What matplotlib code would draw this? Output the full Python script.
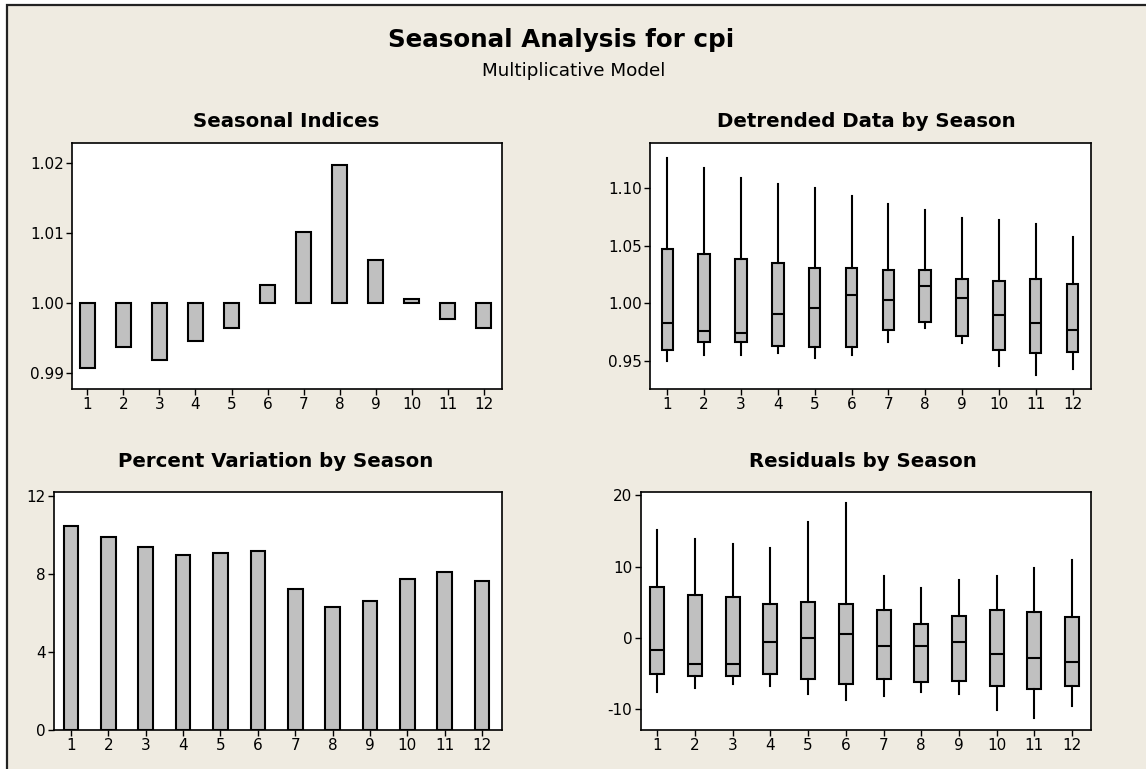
import numpy as np
import matplotlib.pyplot as plt
from matplotlib.patches import Rectangle

# seasons
seasons = np.arange(1, 13)
season_labels = [str(s) for s in seasons]

# seasonal indices
indices = [0.9908, 0.9937, 0.9919, 0.9946, 0.9965, 1.0026,
           1.0102, 1.0197, 1.0062, 1.0006, 0.9977, 0.9965]

# detrended data by season (whisker low, q1, median, q3, whisker high)
det_low = [0.950, 0.955, 0.955, 0.957, 0.953, 0.955, 0.967, 0.979, 0.966, 0.946, 0.938, 0.943]
det_q1 = [0.960, 0.967, 0.967, 0.963, 0.962, 0.962, 0.977, 0.984, 0.972, 0.960, 0.957, 0.958]
det_med = [0.983, 0.976, 0.974, 0.991, 0.996, 1.007, 1.003, 1.015, 1.005, 0.990, 0.983, 0.977]
det_q3 = [1.047, 1.043, 1.038, 1.035, 1.031, 1.031, 1.029, 1.029, 1.021, 1.019, 1.021, 1.017]
det_high = [1.126, 1.117, 1.108, 1.103, 1.100, 1.093, 1.086, 1.081, 1.074, 1.072, 1.069, 1.057]

# percent variation by season
pct_var = [10.46, 9.87, 9.35, 8.94, 9.04, 9.15, 7.20, 6.28, 6.58, 7.71, 8.10, 7.61]

# residuals by season
res_low = [-7.6, -7.0, -6.5, -6.8, -7.9, -8.7, -8.2, -7.6, -7.9, -10.1, -11.2, -9.5]
res_q1 = [-5.1, -5.4, -5.4, -5.1, -5.7, -6.5, -5.7, -6.2, -6.0, -6.8, -7.1, -6.8]
res_med = [-1.7, -3.7, -3.7, -0.6, 0.0, 0.6, -1.1, -1.1, -0.6, -2.3, -2.8, -3.4]
res_q3 = [7.1, 6.0, 5.7, 4.8, 5.1, 4.8, 3.9, 2.0, 3.1, 3.9, 3.7, 2.9]
res_high = [15.2, 13.8, 13.2, 12.6, 16.3, 18.9, 8.7, 7.0, 8.1, 8.7, 9.8, 10.9]

BG = '#EFEBE1'
FILL = '#C0C0C0'
plt.rcParams['font.family'] = 'DejaVu Sans'

fig = plt.figure(figsize=(11.46, 7.69), dpi=100)
fig.patch.set_facecolor('white')
# panel frame (top and left border only visible)
fig.add_artist(Rectangle((7 / 1146, -0.05), 1.2, 0.05 + 1 - 5 / 769,
                         transform=fig.transFigure, facecolor=BG,
                         edgecolor='#222222', linewidth=1.6, zorder=-10))


def style(ax, xlim, ylim, yticks, yfmt):
    ax.set_facecolor('white')
    ax.set_xlim(*xlim)
    ax.set_ylim(*ylim)
    ax.set_xticks(seasons)
    ax.set_xticklabels(season_labels)
    ax.set_yticks(yticks)
    ax.set_yticklabels([yfmt.format(t) for t in yticks])
    ax.tick_params(direction='out', length=4, width=1, labelsize=11,
                   colors='black', pad=2)
    for s in ax.spines.values():
        s.set_linewidth(1.2)
        s.set_color('black')


def boxes(ax, low, q1, med, q3, high, width):
    stats = [dict(whislo=a, q1=b, med=c, q3=d, whishi=e)
             for a, b, c, d, e in zip(low, q1, med, q3, high)]
    ax.bxp(stats, positions=seasons, widths=width, showcaps=False,
           showfliers=False, patch_artist=True,
           boxprops=dict(facecolor=FILL, edgecolor='black', linewidth=1.5),
           medianprops=dict(color='black', linewidth=1.5),
           whiskerprops=dict(color='black', linewidth=1.5))


# Seasonal Indices
ax1 = fig.add_axes([0.0628, 0.4942, 0.3752, 0.3199])
ax1.bar(seasons, np.array(indices) - 1, bottom=1, width=0.42, color=FILL,
        edgecolor='black', linewidth=1.5)
style(ax1, (0.575, 12.5), (0.98776, 1.02286), [0.99, 1.00, 1.01, 1.02], '{:.2f}')

# Detrended Data by Season
ax2 = fig.add_axes([0.5672, 0.4942, 0.3848, 0.3195])
boxes(ax2, det_low, det_q1, det_med, det_q3, det_high, 0.31)
style(ax2, (0.53, 12.5), (0.9261, 1.1383), [0.95, 1.00, 1.05, 1.10], '{:.2f}')

# Percent Variation by Season
ax3 = fig.add_axes([0.0471, 0.0511, 0.3912, 0.3095])
ax3.bar(seasons, pct_var, width=0.39, color=FILL, edgecolor='black', linewidth=1.5)
style(ax3, (0.545, 12.54), (0, 12.2), [0, 4, 8, 12], '{:.0f}')

# Residuals by Season
ax4 = fig.add_axes([0.5591, 0.0511, 0.3929, 0.3095])
boxes(ax4, res_low, res_q1, res_med, res_q3, res_high, 0.37)
style(ax4, (0.56, 12.5), (-12.86, 20.5), [-10, 0, 10, 20], '{:.0f}')

fig.text(0.490, 0.948, 'Seasonal Analysis for cpi', ha='center', va='center',
         fontsize=17.7, fontweight='bold')
fig.text(0.5006, 0.9077, 'Multiplicative Model', ha='center', va='center', fontsize=13.2)
fig.text(0.2496, 0.842, 'Seasonal Indices', ha='center', va='center',
         fontsize=14.2, fontweight='bold')
fig.text(0.7563, 0.842, 'Detrended Data by Season', ha='center', va='center',
         fontsize=14.2, fontweight='bold')
fig.text(0.2407, 0.3996, 'Percent Variation by Season', ha='center', va='center',
         fontsize=14.2, fontweight='bold')
fig.text(0.753, 0.3996, 'Residuals by Season', ha='center', va='center',
         fontsize=14.2, fontweight='bold')

fig.savefig('out.png', dpi=100, facecolor=fig.get_facecolor())
